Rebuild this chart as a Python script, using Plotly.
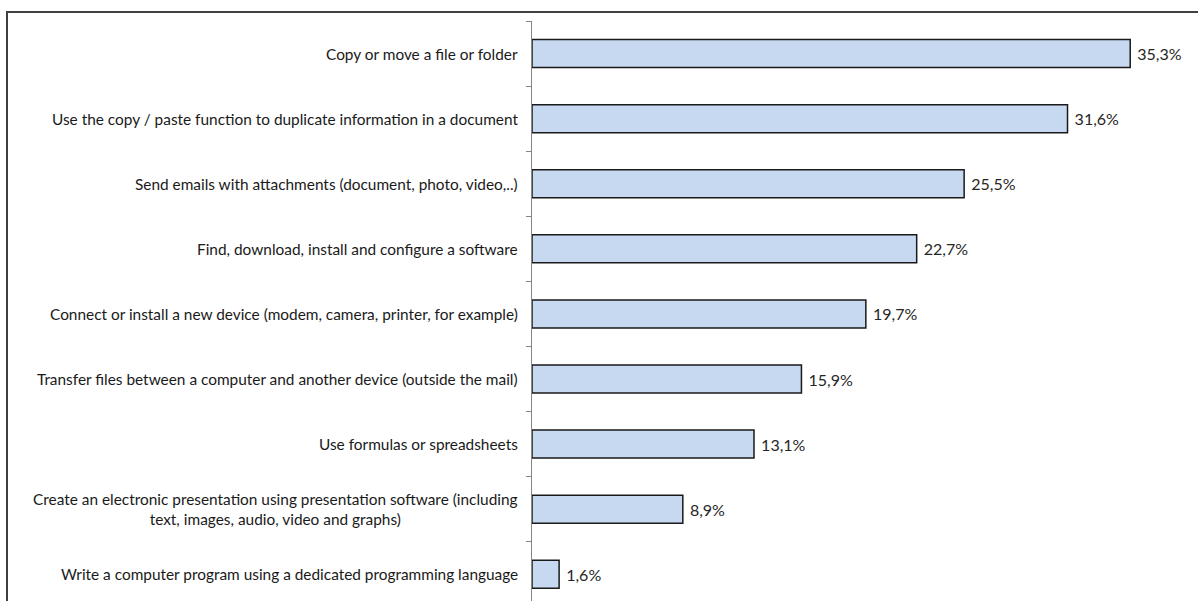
import plotly.graph_objects as go

categories = [
    "Copy or move a file or folder",
    "Use the copy / paste function to duplicate information in a document",
    "Send emails with attachments (document, photo, video,..)",
    "Find, download, install and configure a software",
    "Connect or install a new device (modem, camera, printer, for example)",
    "Transfer files between a computer and another device (outside the mail)",
    "Use formulas or spreadsheets",
    "Create an electronic presentation using presentation software (including<br>text, images, audio, video and graphs)",
    "Write a computer program using a dedicated programming language",
]
values = [35.3, 31.6, 25.5, 22.7, 19.7, 15.9, 13.1, 8.9, 1.6]

FONT = "Lato, sans-serif"

fig = go.Figure()
fig.add_trace(go.Bar(
    x=values,
    y=list(range(len(categories))),
    orientation="h",
    marker=dict(color="#C6D9F1", line=dict(color="#1a1a1a", width=1.5)),
    texttemplate=" %{x:.1f}%",
    textposition="outside",
    textfont=dict(family=FONT, size=16, color="#262626"),
    cliponaxis=False,
    width=0.43,
    hoverinfo="skip",
))

for i, cat in enumerate(categories):
    fig.add_annotation(
        x=0, xref="paper", y=i, yref="y",
        text=cat, showarrow=False,
        xanchor="right", yanchor="middle", align="center",
        xshift=-12,
        font=dict(family=FONT, size=15.4, color="#1a1a1a"),
    )

fig.add_shape(
    type="rect", xref="paper", yref="paper",
    x0=(7 - 532) / 666, x1=1.2, y0=-0.2, y1=1 + 9 / 580,
    line=dict(color="#404040", width=2), fillcolor="rgba(0,0,0,0)",
    layer="below",
)

fig.update_layout(
    width=1198, height=601,
    margin=dict(l=532, r=0, t=21, b=0),
    paper_bgcolor="white", plot_bgcolor="white",
    separators=",.",
    showlegend=False,
    xaxis=dict(range=[0, 39.3], visible=False, fixedrange=True),
    yaxis=dict(
        range=[8.41, -0.5],
        tickmode="array",
        tickvals=[i + 0.5 for i in range(-1, len(categories))],
        ticktext=["" for _ in range(len(categories) + 1)],
        ticks="outside", ticklen=5, tickcolor="#868686", tickwidth=1,
        showline=True, linecolor="#868686", linewidth=1,
        showgrid=False, zeroline=False, fixedrange=True,
    ),
)

fig.write_html(
    "out.html",
    config={"displayModeBar": False},
    post_script="document.body.style.margin='0';document.body.style.overflow='hidden';",
)
